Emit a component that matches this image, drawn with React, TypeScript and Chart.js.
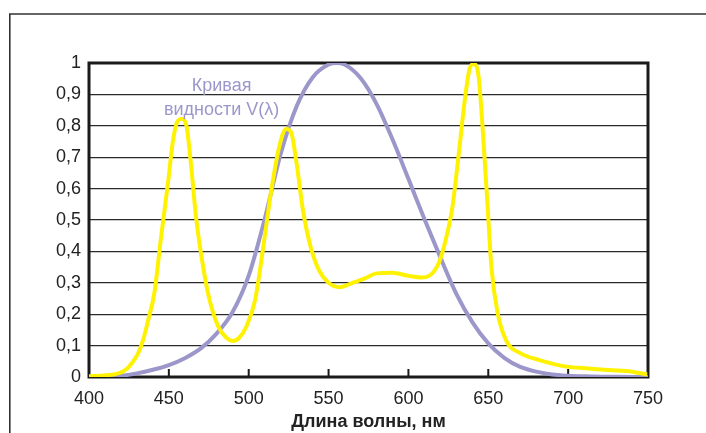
import React, { useEffect, useRef } from "react";
import { Chart, registerables } from "chart.js";

Chart.register(...registerables);

// Visibility curve V(λ)
const vWavelengths = [400, 410, 420, 430, 440, 450, 460, 470, 480, 490, 500, 510, 520, 530, 540, 550, 555, 560, 570, 580, 590, 600, 610, 620, 630, 640, 650, 660, 670, 680, 690, 700, 710, 720, 730, 740, 750];
const vValues = [0.0004, 0.0012, 0.004, 0.0116, 0.023, 0.038, 0.06, 0.091, 0.139, 0.208, 0.323, 0.503, 0.71, 0.862, 0.954, 0.995, 1.0, 0.995, 0.952, 0.87, 0.757, 0.631, 0.503, 0.381, 0.265, 0.175, 0.107, 0.061, 0.032, 0.017, 0.0082, 0.0041, 0.0021, 0.00105, 0.00052, 0.00025, 0.00012];

// Source spectrum (yellow)
const sWavelengths = [400, 410, 417, 421, 424.5, 428, 431, 434, 437, 441, 445, 449.5, 452.5, 455, 458, 461, 464, 467, 471.5, 475.5, 481, 486, 490, 494, 498.5, 504, 509, 514, 519.4, 523.5, 526.5, 530, 534, 539, 544, 550, 557, 565, 573, 580, 590, 600, 608, 613, 619, 623, 627.5, 631.5, 635.5, 638.5, 641, 644, 647, 649.5, 652, 656, 661.5, 670, 682, 699, 711, 725, 740, 749.5];
const sValues = [0.002, 0.005, 0.01, 0.017, 0.03, 0.052, 0.078, 0.12, 0.18, 0.27, 0.44, 0.62, 0.75, 0.81, 0.822, 0.8, 0.67, 0.51, 0.35, 0.245, 0.16, 0.125, 0.115, 0.125, 0.16, 0.245, 0.41, 0.59, 0.74, 0.79, 0.78, 0.68, 0.53, 0.41, 0.34, 0.3, 0.286, 0.3, 0.315, 0.33, 0.332, 0.322, 0.317, 0.322, 0.363, 0.43, 0.54, 0.71, 0.89, 0.985, 0.997, 0.954, 0.75, 0.55, 0.347, 0.2, 0.113, 0.076, 0.054, 0.033, 0.028, 0.022, 0.017, 0.008];

const xTicks = [400, 450, 500, 550, 600, 650, 700, 750];
const xTitle = "Длина волны, нм";
const curveLabel = ["Кривая", "видности V(λ)"];

const YELLOW = "#fff200";
const PURPLE = "#9c97ca";

const decor = {
  id: "decor",
  beforeDraw(chart: any) {
    const ctx = chart.ctx;
    ctx.save();
    ctx.fillStyle = "#ffffff";
    ctx.fillRect(0, 0, chart.width, chart.height);
    ctx.strokeStyle = "#333333";
    ctx.lineWidth = 1.6;
    ctx.beginPath();
    ctx.moveTo(9.8, chart.height + 5);
    ctx.lineTo(9.8, 14);
    ctx.lineTo(chart.width + 5, 14);
    ctx.stroke();
    ctx.restore();
  },
  beforeDatasetsDraw(chart: any) {
    const ctx = chart.ctx;
    const a = chart.chartArea;
    const xs = chart.scales.x;
    ctx.save();
    ctx.strokeStyle = "#1a1a1a";
    ctx.lineWidth = 2;
    ctx.beginPath();
    for (const t of xTicks.slice(1, -1)) {
      const px = xs.getPixelForValue(t);
      ctx.moveTo(px, a.bottom);
      ctx.lineTo(px, a.bottom - 8);
    }
    ctx.stroke();
    ctx.lineWidth = 3;
    ctx.strokeRect(a.left, a.top, a.right - a.left, a.bottom - a.top);
    ctx.restore();
  },
  afterDraw(chart: any) {
    const ctx = chart.ctx;
    const xs = chart.scales.x;
    const ys = chart.scales.y;
    ctx.save();
    ctx.fillStyle = PURPLE;
    ctx.font = "18px 'Liberation Sans', Arial, sans-serif";
    ctx.textAlign = "center";
    ctx.textBaseline = "middle";
    const cx = xs.getPixelForValue(483);
    ctx.fillText(curveLabel[0], cx, ys.getPixelForValue(0.927));
    ctx.fillText(curveLabel[1], cx, ys.getPixelForValue(0.85));
    ctx.restore();
  },
};

export default function App() {
  const ref = useRef<HTMLCanvasElement>(null);
  useEffect(() => {
    document.body.style.margin = "0";
    const chart = new Chart(ref.current!, {
      type: "line",
      data: {
        datasets: [
          {
            label: "V(λ)",
            data: vWavelengths.map((w, i) => ({ x: w, y: vValues[i] })),
            borderColor: PURPLE,
            borderWidth: 4,
            pointRadius: 0,
            cubicInterpolationMode: "monotone",
            fill: false,
            order: 2,
          },
          {
            label: "spectrum",
            data: sWavelengths.map((w, i) => ({ x: w, y: sValues[i] })),
            borderColor: YELLOW,
            borderWidth: 4,
            pointRadius: 0,
            cubicInterpolationMode: "monotone",
            fill: false,
            order: 1,
          },
        ],
      },
      options: {
        responsive: false,
        animation: false,
        layout: { padding: { left: 0, right: 58, top: 63, bottom: 0 } },
        plugins: { legend: { display: false }, tooltip: { enabled: false } },
        scales: {
          x: {
            type: "linear",
            min: 400,
            max: 750,
            afterBuildTicks: (s: any) => {
              s.ticks = xTicks.map((v) => ({ value: v }));
            },
            afterFit: (s: any) => {
              s.height = 56;
            },
            grid: { display: false, drawTicks: false },
            border: { display: false },
            ticks: {
              color: "#222",
              padding: 11,
              maxRotation: 0,
              font: { family: "'Liberation Sans', Arial, sans-serif", size: 18 },
            },
            title: {
              display: true,
              text: xTitle,
              color: "#222",
              padding: { top: 3, bottom: 0 },
              font: { family: "'Liberation Sans', Arial, sans-serif", size: 18, weight: "bold" },
            },
          },
          y: {
            min: 0,
            max: 1,
            afterFit: (s: any) => {
              s.width = 89;
            },
            grid: { color: "#2a2a2a", lineWidth: 1.2, drawTicks: false },
            border: { display: false },
            ticks: {
              stepSize: 0.1,
              color: "#222",
              padding: 8,
              font: { family: "'Liberation Sans', Arial, sans-serif", size: 18 },
              callback: (v: any) => {
                const n = Number(v);
                if (Math.abs(n) < 1e-9) return "0";
                if (Math.abs(n - 1) < 1e-9) return "1";
                return n.toFixed(1).replace(".", ",");
              },
            },
          },
        },
      },
      plugins: [decor],
    });
    return () => chart.destroy();
  }, []);
  return <canvas ref={ref} width={706} height={433} style={{ display: "block" }} />;
}
